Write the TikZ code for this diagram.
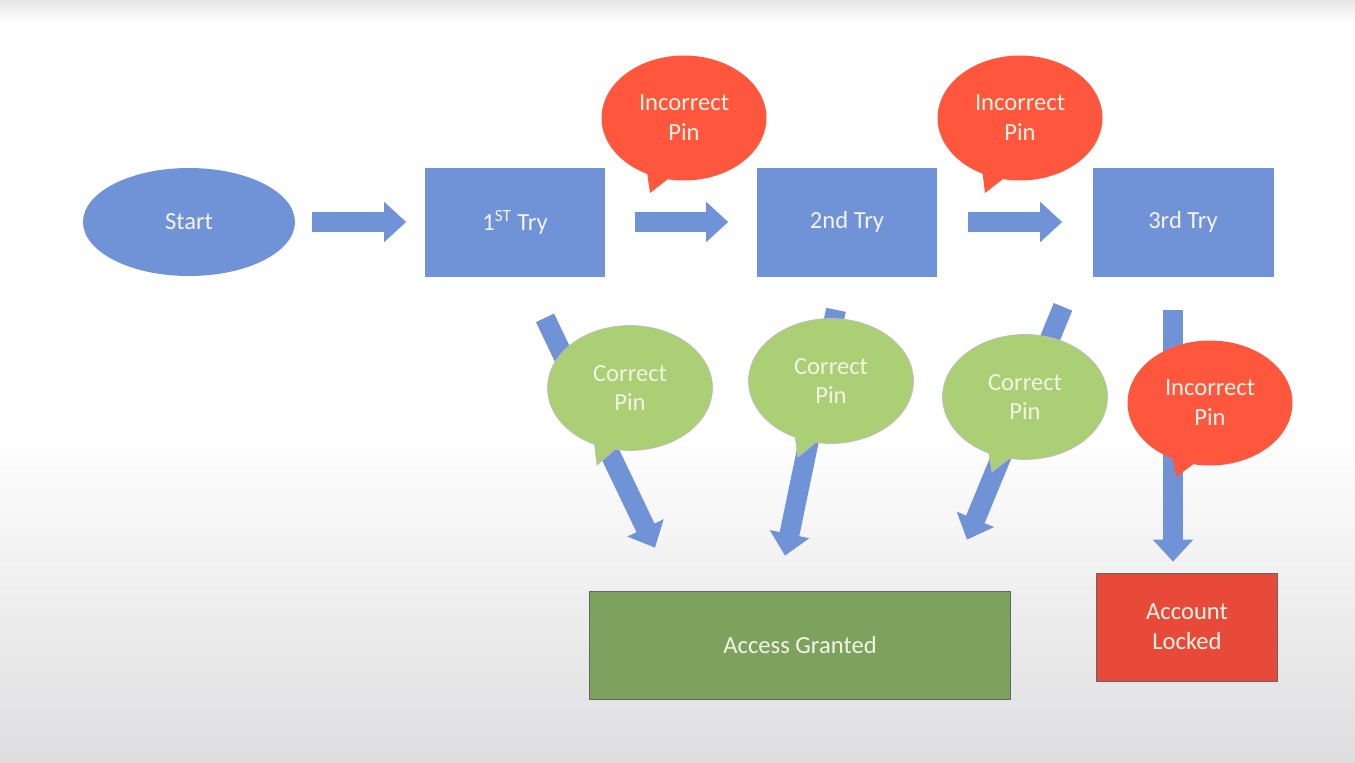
\documentclass[tikz,border=0pt]{standalone}
\usepackage{fontspec}
\setmainfont{Carlito}
\usetikzlibrary{arrows.meta, positioning, shapes.geometric, shapes.callouts}

\definecolor{tryblue}{RGB}{112,146,214}
\definecolor{pinred}{RGB}{255,86,62}
\definecolor{pingreen}{RGB}{170,207,116}
\definecolor{grantgreen}{RGB}{124,162,94}
\definecolor{lockred}{RGB}{232,74,58}
\definecolor{labeltext}{RGB}{244,244,230}
\definecolor{bggrey}{RGB}{222,222,224}

\begin{document}
\begin{tikzpicture}[x=0.02cm, y=-0.02cm,
  font=\fontsize{14}{17}\selectfont, text=labeltext,
  trybox/.style={rectangle, fill=tryblue, minimum width=3.62cm, minimum height=2.18cm},
  endbox/.style={rectangle, draw=gray!80!black, thin, minimum height=2.16cm, align=center},
  flow/.style={draw=tryblue, line width=0.4cm, -{Triangle[width=0.78cm, length=0.44cm]}},
  pinnote/.style={ellipse callout, minimum width=3.3cm, minimum height=2.5cm, align=center},
  badpin/.style={pinnote, fill=pinred},
  goodpin/.style={pinnote, fill=pingreen, draw=gray!50, thin}]

  % Background
  \useasboundingbox (0,0) rectangle (1355,762);
  \fill[white] (0,0) rectangle (1355,762);
  \fill[top color=gray!20, bottom color=white] (0,0) rectangle (1355,22);
  \fill[top color=white, bottom color=bggrey] (0,430) rectangle (1355,762);

  % Tries
  \node[ellipse, fill=tryblue, minimum width=4.24cm, minimum height=2.16cm]
        (start) at (189,222) {Start};
  \node[trybox] (try1) at (515,222) {1\textsuperscript{ST} Try};
  \node[trybox] (try2) at (847,222) {2nd Try};
  \node[trybox] (try3) at (1183,222) {3rd Try};

  % Results
  \node[endbox, fill=grantgreen, minimum width=8.42cm] (access) at (800,645) {Access Granted};
  \node[endbox, fill=lockred, minimum width=3.62cm] (locked) at (1187,627) {Account\\Locked};

  % Arrows between tries
  \foreach \a/\b/\s/\e in {start/try1/0.34/0.36, try1/try2/0.58/0.56, try2/try3/0.6/0.6}
    \draw[flow, shorten <=\s cm, shorten >=\e cm] (\a) -- (\b);

  % Arrows down to results
  \foreach \a/\sa/\b/\sb in {try1/{30,41}/access/{-145,-43}, try2/{-11,33}/access/{-15,-35},
                             try3/{-120,30}/access/{167,-51}, try3/{-10,33}/locked/{-14,-11}}
    \draw[flow] ([shift={(\sa)}]\a.south) -- ([shift={(\sb)}]\b.north);

  % Pin callouts
  \node[badpin, callout absolute pointer={(650,193)}] (bad1) at (684,118) {Incorrect\\Pin};
  \node[badpin, callout absolute pointer={(985,193)}] (bad2) at (1020,118) {Incorrect\\Pin};
  \node[badpin, callout absolute pointer={(1176,477)}] (bad3) at (1210,403) {Incorrect\\Pin};
  \node[goodpin, callout absolute pointer={(597,465)}] (good1) at (630,388) {Correct\\Pin};
  \node[goodpin, callout absolute pointer={(798,457)}] (good2) at (831,381) {Correct\\Pin};
  \node[goodpin, callout absolute pointer={(992,472)}] (good3) at (1025,397) {Correct\\Pin};

\end{tikzpicture}
\end{document}
